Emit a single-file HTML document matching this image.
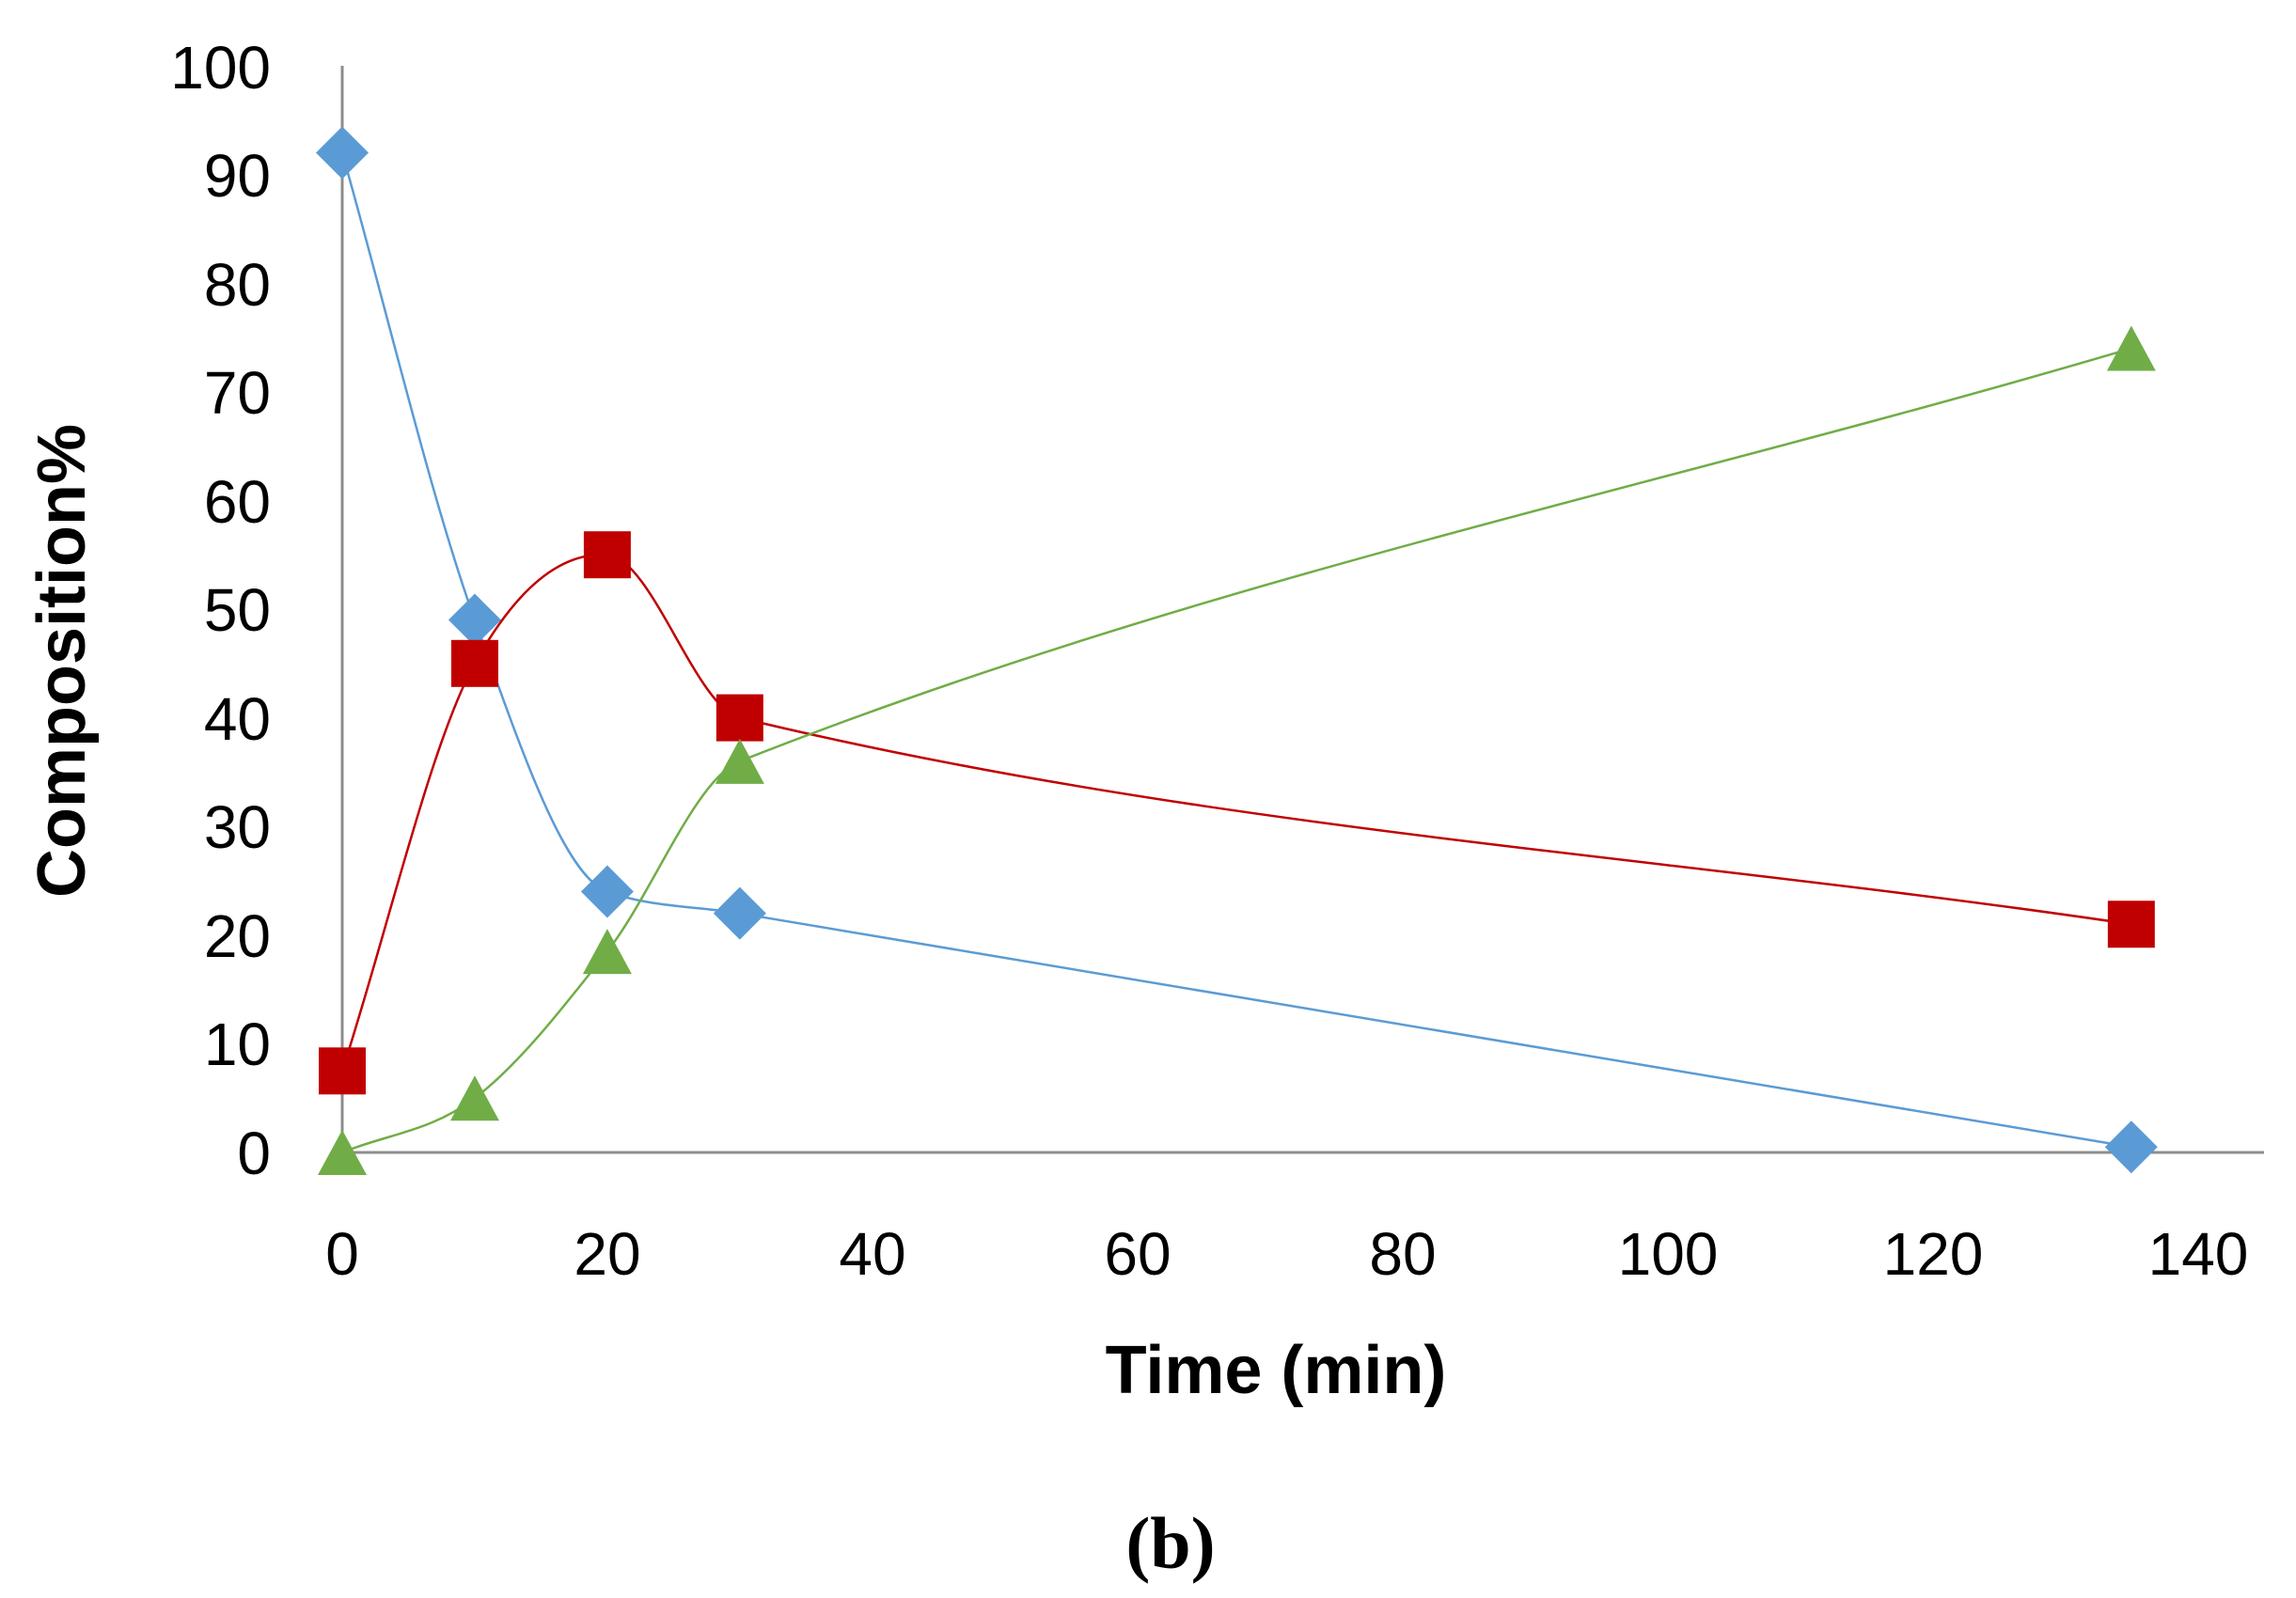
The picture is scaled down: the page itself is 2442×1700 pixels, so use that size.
<!DOCTYPE html>
<html><head><meta charset="utf-8"><style>
html,body{margin:0;padding:0;background:#fff;}
svg{display:block;}
text{font-family:"Liberation Sans",sans-serif;}
</style></head><body>
<svg id="s" width="2442" height="1700" xmlns="http://www.w3.org/2000/svg">
<line x1="364" y1="70" x2="364" y2="1226" stroke="#8c8c8c" stroke-width="3"/>
<line x1="364" y1="1226" x2="2408" y2="1226" stroke="#8c8c8c" stroke-width="3"/>
<g font-size="64" text-anchor="end" fill="#000">
<text x="288" y="1249">0</text><text x="288" y="1133">10</text><text x="288" y="1018">20</text>
<text x="288" y="902">30</text><text x="288" y="787">40</text><text x="288" y="671">50</text>
<text x="288" y="556">60</text><text x="288" y="440">70</text><text x="288" y="325">80</text>
<text x="288" y="209">90</text><text x="288" y="94">100</text>
</g>
<g font-size="64" text-anchor="middle" fill="#000">
<text x="364" y="1356">0</text><text x="646" y="1356">20</text><text x="928" y="1356">40</text>
<text x="1210" y="1356">60</text><text x="1492" y="1356">80</text><text x="1774" y="1356">100</text>
<text x="2056" y="1356">120</text><text x="2338" y="1356">140</text>
</g>
<text x="1357" y="1482" font-size="72" font-weight="bold" text-anchor="middle">Time (min)</text>
<text transform="translate(90,703) rotate(-90)" font-size="72" font-weight="bold" text-anchor="middle">Composition%</text>
<text x="1245" y="1668" font-size="78" font-weight="bold" text-anchor="middle" style="font-family:'Liberation Serif',serif">(b)</text>
<g id="g"></g>
</svg>
<script>
var X=function(x){return 364+x*14.095;},Y=function(y){return 1226-y*11.56;};
var xs=[0,10,20,30,135];
var S=[{c:"#5b9bd5",d:[92,49,24,22,0.5],m:"d"},{c:"#c00000",d:[7.5,45,55,40,21],m:"s"},{c:"#70ad47",d:[0,5,18.5,36,74],m:"t"}];
var g=document.getElementById("g"),h="";
S.forEach(function(s){
 var p=xs.map(function(x,i){return [X(x),Y(s.d[i])];});
 var n=p.length,m=[];
 for(var i=0;i<n;i++){
  var a=p[Math.max(i-1,0)],b=p[Math.min(i+1,n-1)];
  var sl=(b[1]-a[1])/(b[0]-a[0]);
  // limit by neighboring segment slopes
  if(i>0&&i<n-1){
   var s1=(p[i][1]-p[i-1][1])/(p[i][0]-p[i-1][0]),s2=(p[i+1][1]-p[i][1])/(p[i+1][0]-p[i][0]);
   if(s1*s2<=0)sl=sl*0.3;
   else{var mn=Math.min(Math.abs(s1),Math.abs(s2))*2.2; if(Math.abs(sl)>mn)sl=Math.sign(sl)*mn;}
  }
  m.push(sl);
 }
 var d="M"+p[0][0]+","+p[0][1];
 for(var i=0;i<n-1;i++){
  var dx=(p[i+1][0]-p[i][0])/3;
  d+=" C"+(p[i][0]+dx)+","+(p[i][1]+m[i]*dx)+" "+(p[i+1][0]-dx)+","+(p[i+1][1]-m[i+1]*dx)+" "+p[i+1][0]+","+p[i+1][1];
 }
 h+='<path d="'+d+'" fill="none" stroke="'+s.c+'" stroke-width="2.5"/>';
 p.forEach(function(q){var x=q[0],y=q[1];
  if(s.m=="d")h+='<polygon points="'+(x-28)+','+y+' '+x+','+(y-28)+' '+(x+28)+','+y+' '+x+','+(y+28)+'" fill="'+s.c+'"/>';
  if(s.m=="s")h+='<rect x="'+(x-25)+'" y="'+(y-25)+'" width="50" height="50" fill="'+s.c+'"/>';
  if(s.m=="t")h+='<polygon points="'+(x-26)+','+(y+24)+' '+x+','+(y-24)+' '+(x+26)+','+(y+24)+'" fill="'+s.c+'"/>';
 });
});
g.innerHTML=h;
</script>
</body></html>
